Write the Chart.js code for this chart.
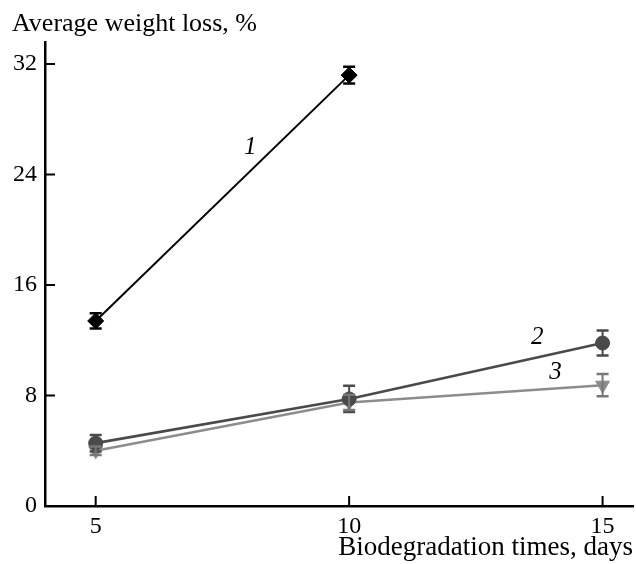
<!DOCTYPE html>
<html><head><meta charset="utf-8">
<script src="https://cdn.jsdelivr.net/npm/chart.js@4.4.0/dist/chart.umd.min.js"></script>
<style>html,body{margin:0;padding:0;background:#fff}#wrap{width:636px;height:564px}</style>
</head><body><div id="wrap"><canvas id="c" width="636" height="564"></canvas></div>
<script>
// ---- data ----
const days = [5, 10, 15];
const series1 = [13.4, 31.2];
const series1Err = [0.55, 0.6];
const series2 = [4.55, 7.75, 11.8];
const series2Err = [0.6, 0.95, 0.9];
const series3 = [4.0, 7.5, 8.75];
const series3Err = [0.3, 0.55, 0.8];
const xTicks = [5, 10, 15];
const yTicks = [0, 8, 16, 24, 32];
const seriesNames = ['1', '2', '3'];
const yTitle = 'Average weight loss, %';
const xTitle = 'Biodegradation times, days';

const SERIF = "'Liberation Serif', 'Times New Roman', serif";
const toPts = (vals) => vals.map((v, i) => ({ x: days[i], y: v }));

const errorBars = {
  id: 'errorBars',
  afterDatasetsDraw(chart) {
    const { ctx, scales: { x, y } } = chart;
    ctx.save();
    chart.data.datasets.forEach((ds) => {
      const errs = ds.errors || [];
      ds.data.forEach((p, i) => {
        const e = errs[i];
        if (e == null) return;
        const px = x.getPixelForValue(p.x);
        const top = y.getPixelForValue(p.y + e);
        const bot = y.getPixelForValue(p.y - e);
        ctx.strokeStyle = ds.errorColor || ds.borderColor;
        ctx.lineWidth = 2;
        ctx.beginPath();
        ctx.moveTo(px, top); ctx.lineTo(px, bot);
        ctx.stroke();
        ctx.lineWidth = 2.5;
        ctx.beginPath();
        ctx.moveTo(px - 6, top); ctx.lineTo(px + 6, top);
        ctx.moveTo(px - 6, bot); ctx.lineTo(px + 6, bot);
        ctx.stroke();
      });
    });
    ctx.restore();
  }
};

const innerTicks = {
  id: 'innerTicks',
  afterDraw(chart) {
    const { ctx, chartArea: a, scales: { x, y } } = chart;
    ctx.save();
    ctx.strokeStyle = '#000';
    ctx.lineWidth = 2;
    ctx.beginPath();
    yTicks.forEach(v => {
      if (v === 0) return;
      const py = y.getPixelForValue(v);
      ctx.moveTo(a.left, py); ctx.lineTo(a.left + 10, py);
    });
    xTicks.forEach(v => {
      const px = x.getPixelForValue(v);
      ctx.moveTo(px, a.bottom); ctx.lineTo(px, a.bottom - 10);
    });
    ctx.stroke();
    ctx.restore();
  }
};

const curveLabels = {
  id: 'curveLabels',
  afterDraw(chart, args, opts) {
    const { ctx, scales: { x, y } } = chart;
    ctx.save();
    ctx.font = "italic 25px " + SERIF;
    ctx.fillStyle = '#000';
    ctx.textAlign = 'center';
    ctx.textBaseline = 'middle';
    opts.items.forEach(it => {
      ctx.fillText(it.text, x.getPixelForValue(it.x), y.getPixelForValue(it.y));
    });
    ctx.restore();
  }
};

new Chart(document.getElementById('c'), {
  type: 'line',
  data: {
    datasets: [
      {
        label: seriesNames[0], data: toPts(series1), errors: series1Err,
        borderColor: '#000', backgroundColor: '#000', borderWidth: 2,
        pointStyle: 'rectRot', pointRadius: 8, pointBorderWidth: 1,
        pointBackgroundColor: '#000', pointBorderColor: '#000'
      },
      {
        label: seriesNames[1], data: toPts(series2), errors: series2Err,
        borderColor: '#4a4a4a', backgroundColor: '#4a4a4a', borderWidth: 2.7,
        pointStyle: 'circle', pointRadius: 7, pointBorderWidth: 1,
        pointBackgroundColor: '#4a4a4a', pointBorderColor: '#4a4a4a'
      },
      {
        label: seriesNames[2], data: toPts(series3), errors: series3Err,
        errorColor: '#777',
        borderColor: '#8c8c8c', backgroundColor: '#8c8c8c', borderWidth: 2.5,
        pointStyle: 'triangle', pointRotation: 180, pointRadius: 8, pointBorderWidth: 1,
        pointBackgroundColor: '#8c8c8c', pointBorderColor: '#8c8c8c'
      }
    ]
  },
  options: {
    responsive: false,
    animation: false,
    devicePixelRatio: 1,
    layout: { autoPadding: false, padding: { left: 12, right: 3, top: 0, bottom: 0 } },
    plugins: {
      legend: { display: false },
      tooltip: { enabled: false },
      title: {
        display: true, text: yTitle, align: 'start', color: '#000',
        font: { family: SERIF, size: 26, weight: 'normal' },
        padding: { top: 8.6, bottom: 2.2 }
      },
      curveLabels: {
        items: [
          { text: seriesNames[0], x: 8.05, y: 26.0 },
          { text: seriesNames[1], x: 13.71, y: 12.24 },
          { text: seriesNames[2], x: 14.07, y: 9.7 }
        ]
      }
    },
    scales: {
      x: {
        type: 'linear', min: 4, max: 15.6,
        afterBuildTicks: (s) => { s.ticks = xTicks.map(v => ({ value: v })); },
        afterFit: (s) => { s.height = 58; s.paddingLeft = 0; s.paddingRight = 0; },
        grid: { display: false, drawTicks: false },
        border: { display: true, color: '#000', width: 2.5 },
        ticks: { color: '#000', padding: 6, maxRotation: 0, font: { family: SERIF, size: 24 } },
        title: {
          display: true, text: xTitle, align: 'end', color: '#000',
          font: { family: SERIF, size: 27 }, padding: { top: 0, bottom: 0 }
        }
      },
      y: {
        type: 'linear', min: 0, max: 33.6,
        afterBuildTicks: (s) => { s.ticks = yTicks.map(v => ({ value: v })); },
        afterFit: (s) => { s.width = 33; },
        grid: { display: false, drawTicks: false },
        border: { display: true, color: '#000', width: 2.5 },
        ticks: { color: '#000', padding: 8, font: { family: SERIF, size: 24 } }
      }
    }
  },
  plugins: [errorBars, innerTicks, curveLabels]
});
</script>
</body></html>
